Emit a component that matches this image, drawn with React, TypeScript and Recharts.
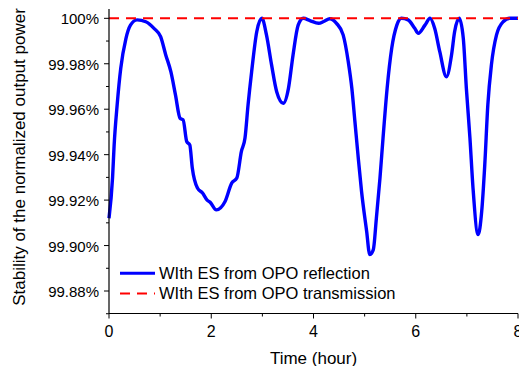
import React from 'react';
import { LineChart, Line, XAxis, YAxis, Legend, Label } from 'recharts';

const FONT = '"Liberation Sans", Arial, sans-serif';

// time axis (hour) and stability readings for the reflection locking case
const hours = [
  0, 0.07, 0.1, 0.16, 0.23, 0.33, 0.42, 0.55, 0.72, 0.88, 1.01, 1.11, 1.21, 1.3, 1.39, 1.45,
  1.52, 1.58, 1.63, 1.73, 1.83, 1.92, 1.98, 2.1, 2.27, 2.4, 2.5, 2.59, 2.66, 2.72, 2.79,
  2.89, 2.99, 3.08, 3.18, 3.28, 3.41, 3.51, 3.6, 3.7, 3.8, 3.93, 4.1, 4.2, 4.32, 4.45,
  4.58, 4.68, 4.75, 4.81, 4.87, 4.94, 5.04, 5.1, 5.17, 5.23, 5.3, 5.36, 5.44, 5.53, 5.63,
  5.72, 5.85, 5.98, 6.05, 6.18, 6.28, 6.37, 6.47, 6.6, 6.7, 6.76, 6.85, 6.93, 6.99, 7.06,
  7.12, 7.22, 7.29, 7.35, 7.41, 7.48, 7.58, 7.71, 7.84, 8,
];
const reflection = [
  99.912, 99.93, 99.944, 99.962, 99.978, 99.991, 99.997, 99.9993, 99.9985, 99.9956, 99.9919,
  99.9839, 99.9765, 99.9663, 99.956, 99.9553, 99.9458, 99.9443, 99.934, 99.9253, 99.9231,
  99.92, 99.919, 99.9157, 99.9194, 99.9275, 99.9297, 99.9414, 99.9473, 99.9619, 99.9765,
  99.9941, 100, 99.9927, 99.9795, 99.9677, 99.9626, 99.9692, 99.9839, 99.997, 100, 99.999,
  99.9978, 99.9986, 99.9998, 99.9978, 99.9927, 99.9809, 99.9692, 99.9546, 99.9399, 99.9238,
  99.9062, 99.896, 99.8982, 99.9121, 99.9297, 99.9473, 99.9692, 99.9868, 99.997, 100,
  99.9993, 99.9956, 99.9934, 99.997, 100, 99.9956, 99.9853, 99.9743, 99.9839, 99.9941, 100,
  99.9912, 99.9692, 99.9473, 99.9253, 99.9048, 99.915, 99.9355, 99.9619, 99.9795, 99.9927,
  99.9985, 100, 100,
];

// transmission locking case stays at 100%
const transmissionHours = [0, 8];
const transmission = [100, 100];

const xTicks = [0, 1, 2, 3, 4, 5, 6, 7, 8];
const xTickLabels = ['0', '', '2', '', '4', '', '6', '', '8'];
const yTicks = [99.87, 99.88, 99.89, 99.9, 99.91, 99.92, 99.93, 99.94, 99.95, 99.96, 99.97, 99.98, 99.99, 100];
const yTickLabels = ['', '99.88%', '', '99.90%', '', '99.92%', '', '99.94%', '', '99.96%', '', '99.98%', '', '100%'];

const reflectionData = hours.map((h, i) => ({ h, v: reflection[i] }));
const transmissionData = transmissionHours.map((h, i) => ({ h, v: transmission[i] }));

function XTick({ x, y, index }: any) {
  const label = xTickLabels[index];
  return (
    <g>
      <line x1={x} x2={x} y1={y} y2={y + (label ? 5 : 3)} stroke="#000" strokeWidth={1} />
      {label && (
        <text x={x} y={y + 23} textAnchor="middle" fontSize={16} fontFamily={FONT} fill="#000">
          {label}
        </text>
      )}
    </g>
  );
}

function TopTick({ x, y }: any) {
  return <line x1={x} x2={x} y1={y} y2={y - 3} stroke="#777" strokeWidth={1} />;
}

function YTick({ x, y, index }: any) {
  const label = yTickLabels[index];
  return (
    <g>
      <line x1={x - (label ? 5 : 3)} x2={x} y1={y} y2={y} stroke="#000" strokeWidth={1} />
      {label && (
        <text x={x - 10} y={y + 6} textAnchor="end" fontSize={15} fontFamily={FONT} fill="#000">
          {label}
        </text>
      )}
    </g>
  );
}

function LegendBox() {
  return (
    <svg width={300} height={45}>
      <line x1={8} x2={43} y1={11.3} y2={11.3} stroke="#0000ff" strokeWidth={3} />
      <text x={47} y={16.5} fontSize={16.5} fontFamily={FONT} fill="#000">WIth ES from OPO reflection</text>
      <line x1={8} x2={43} y1={31.5} y2={31.5} stroke="#ff0000" strokeWidth={2} strokeDasharray="10 7" />
      <text x={47} y={36.5} fontSize={16.5} fontFamily={FONT} fill="#000">WIth ES from OPO transmission</text>
    </svg>
  );
}

export default function App() {
  return (
    <div style={{ position: 'absolute', left: 0, top: 0 }}>
      <LineChart width={519} height={366} margin={{ top: 9, right: 1, bottom: 0, left: 0 }}>
        <XAxis
          dataKey="h"
          type="number"
          domain={[0, 8]}
          ticks={xTicks}
          interval={0}
          height={52.5}
          tickSize={0}
          tickMargin={0}
          tick={<XTick />}
          axisLine={{ stroke: '#000', strokeWidth: 1.2 }}
        >
          <Label
            content={({ viewBox }: any) => (
              <text
                x={viewBox.x + viewBox.width / 2}
                y={viewBox.y + 50}
                textAnchor="middle"
                fontSize={17}
                fontFamily={FONT}
                fill="#000"
              >
                Time (hour)
              </text>
            )}
          />
        </XAxis>
        <XAxis
          xAxisId="top"
          dataKey="h"
          type="number"
          orientation="top"
          domain={[0, 8]}
          ticks={xTicks}
          interval={0}
          height={0}
          tickSize={0}
          tickMargin={0}
          tick={<TopTick />}
          axisLine={{ stroke: '#444', strokeWidth: 1 }}
        />
        <YAxis
          type="number"
          domain={[99.8701, 100.0041]}
          ticks={yTicks}
          interval={0}
          width={109}
          tickSize={0}
          tickMargin={0}
          tick={<YTick />}
          axisLine={{ stroke: '#000', strokeWidth: 1.2 }}
        >
          <Label
            content={() => (
              <text
                x={19}
                y={157}
                dy="0.35em"
                transform="rotate(-90, 19, 157)"
                textAnchor="middle"
                fontSize={17}
                fontFamily={FONT}
                fill="#000"
              >
                Stability of the normalized output power
              </text>
            )}
          />
        </YAxis>
        <YAxis
          yAxisId="right"
          type="number"
          orientation="right"
          domain={[99.8701, 100.0041]}
          width={0}
          tick={false}
          tickLine={false}
          axisLine={{ stroke: '#222', strokeWidth: 1 }}
        />
        <Line
          data={reflectionData}
          dataKey="v"
          name="WIth ES from OPO reflection"
          type="monotone"
          stroke="#0000ff"
          strokeWidth={3.4}
          dot={false}
          isAnimationActive={false}
        />
        <Line
          data={transmissionData}
          dataKey="v"
          name="WIth ES from OPO transmission"
          type="linear"
          stroke="#ff0000"
          strokeWidth={2}
          strokeDasharray="10 7"
          dot={false}
          isAnimationActive={false}
        />
        <Legend
          layout="vertical"
          align="center"
          verticalAlign="middle"
          wrapperStyle={{ left: 112, top: 262, width: 300, height: 45 }}
          content={() => <LegendBox />}
        />
      </LineChart>
    </div>
  );
}
